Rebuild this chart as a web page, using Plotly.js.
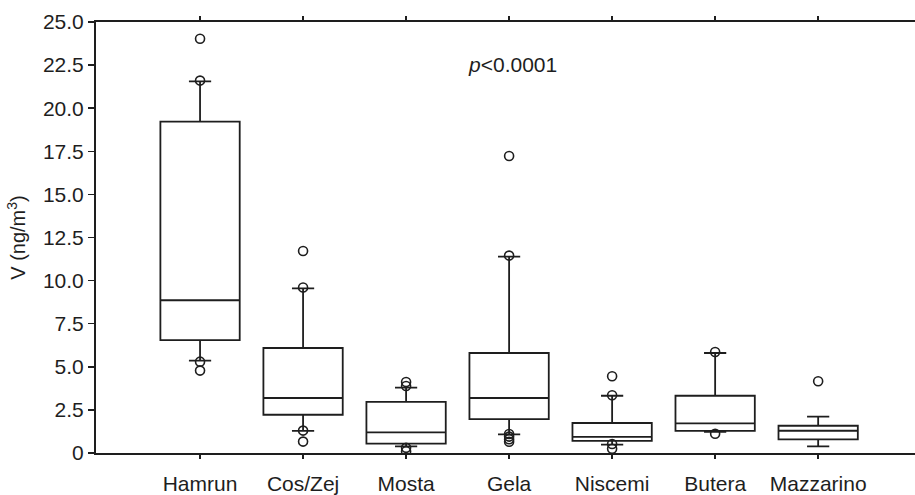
<!DOCTYPE html>
<html>
<head>
<meta charset="utf-8">
<script src="https://cdn.plot.ly/plotly-3.0.1.min.js"></script>
<style>html,body{margin:0;padding:0;background:#fff;}#chart{width:915px;height:495px;}</style>
</head>
<body>
<div id="chart"></div>
<script>
// Categories (sites)
const categories = ['Hamrun', 'Cos/Zej', 'Mosta', 'Gela', 'Niscemi', 'Butera', 'Mazzarino'];
// Box statistics (ng/m3)
const q1Values     = [6.55, 2.22, 0.54, 1.97, 0.70, 1.28, 0.79];
const medianValues = [8.86, 3.19, 1.20, 3.19, 0.93, 1.72, 1.29];
const q3Values     = [19.22, 6.09, 2.96, 5.80, 1.74, 3.32, 1.58];
const lowerWhisker = [5.36, 1.28, 0.39, 1.08, 0.48, 1.22, 0.39];
const upperWhisker = [21.56, 9.55, 3.79, 11.39, 3.32, 5.80, 2.11];
// Individual points drawn as open circles
const pointSites  = ['Hamrun','Hamrun','Hamrun','Hamrun',
                     'Cos/Zej','Cos/Zej','Cos/Zej','Cos/Zej',
                     'Mosta','Mosta','Mosta','Mosta',
                     'Gela','Gela','Gela','Gela','Gela','Gela',
                     'Niscemi','Niscemi','Niscemi','Niscemi',
                     'Butera','Butera',
                     'Mazzarino'];
const pointValues = [24.03, 21.6, 5.3, 4.78,
                     11.72, 9.6, 1.3, 0.66,
                     4.12, 3.89, 0.3, 0.1,
                     17.23, 11.45, 1.1, 0.95, 0.8, 0.65,
                     4.45, 3.35, 0.52, 0.25,
                     5.86, 1.12,
                     4.16];
// Y tick labels
const yTickValues = [0, 2.5, 5, 7.5, 10, 12.5, 15, 17.5, 20, 22.5, 25];
const yTickLabels = ['0', '2.5', '5.0', '7.5', '10.0', '12.5', '15.0', '17.5', '20.0', '22.5', '25.0'];

const ink = '#1e1e1e';
const fontFam = 'Liberation Sans, Arial, sans-serif';

const boxTrace = {
  type: 'box',
  x: categories,
  q1: q1Values,
  median: medianValues,
  q3: q3Values,
  lowerfence: lowerWhisker,
  upperfence: upperWhisker,
  width: 0.77,
  whiskerwidth: 0.28,
  fillcolor: '#ffffff',
  line: {color: ink, width: 1.8},
  boxpoints: false,
  showlegend: false,
  hoverinfo: 'skip'
};

const pointTrace = {
  type: 'scatter',
  mode: 'markers',
  x: pointSites,
  y: pointValues,
  marker: {symbol: 'circle-open', size: 9, color: ink, line: {width: 1.6, color: ink}},
  showlegend: false,
  hoverinfo: 'skip'
};

const layout = {
  width: 915,
  height: 495,
  margin: {l: 96, r: 0, t: 22, b: 42, pad: 0},
  paper_bgcolor: '#ffffff',
  plot_bgcolor: '#ffffff',
  font: {family: fontFam, color: ink, size: 21},
  showlegend: false,
  xaxis: {
    type: 'category',
    categoryorder: 'array',
    categoryarray: categories,
    range: [-1.01, 6.94],
    showline: true,
    linecolor: ink,
    linewidth: 2,
    mirror: 'ticks',
    ticks: 'outside',
    ticklen: 4,
    tickwidth: 1.5,
    tickcolor: ink,
    showgrid: false,
    zeroline: false,
    tickfont: {family: fontFam, size: 21, color: ink},
    ticklabelstandoff: 7
  },
  yaxis: {
    range: [0, 25],
    tickvals: yTickValues,
    ticktext: yTickLabels,
    showline: true,
    linecolor: ink,
    linewidth: 2,
    ticks: 'outside',
    ticklen: 6,
    tickwidth: 1.5,
    tickcolor: ink,
    showgrid: false,
    zeroline: false,
    tickfont: {family: fontFam, size: 21, color: ink},
    title: {text: 'V (ng/m<sup>3</sup>)', font: {family: fontFam, size: 20, color: ink}, standoff: 12}
  },
  annotations: [{
    xref: 'paper', yref: 'y',
    x: 0.508, y: 22.56,
    text: '<i>p</i>&lt;0.0001',
    showarrow: false,
    font: {family: fontFam, size: 21, color: ink},
    xanchor: 'center', yanchor: 'middle'
  }]
};

Plotly.newPlot('chart', [boxTrace, pointTrace], layout, {displayModeBar: false, staticPlot: true});
</script>
</body>
</html>
